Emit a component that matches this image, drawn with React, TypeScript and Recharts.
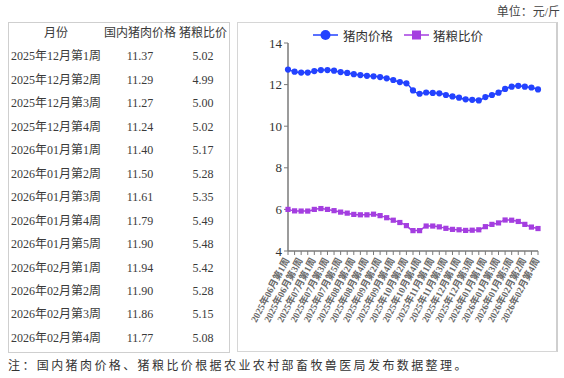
import React from 'react';
import { LineChart, Line, XAxis, YAxis } from 'recharts';

const weeks = [
  '2025年06月第1周', '2025年06月第2周', '2025年06月第3周', '2025年06月第4周',
  '2025年07月第1周', '2025年07月第2周', '2025年07月第3周', '2025年07月第4周', '2025年07月第5周',
  '2025年08月第1周', '2025年08月第2周', '2025年08月第3周', '2025年08月第4周',
  '2025年09月第1周', '2025年09月第2周', '2025年09月第3周', '2025年09月第4周',
  '2025年10月第1周', '2025年10月第2周', '2025年10月第3周', '2025年10月第4周', '2025年10月第5周',
  '2025年11月第1周', '2025年11月第2周', '2025年11月第3周', '2025年11月第4周',
  '2025年12月第1周', '2025年12月第2周', '2025年12月第3周', '2025年12月第4周',
  '2026年01月第1周', '2026年01月第2周', '2026年01月第3周', '2026年01月第4周', '2026年01月第5周',
  '2026年02月第1周', '2026年02月第2周', '2026年02月第3周', '2026年02月第4周',
];

const porkPrice = [
  12.72, 12.62, 12.58, 12.58,
  12.65, 12.70, 12.70, 12.67, 12.60,
  12.56, 12.50, 12.46, 12.42,
  12.40, 12.36, 12.30, 12.22,
  12.12, 12.06, 11.72, 11.56, 11.62,
  11.60, 11.58, 11.50, 11.43,
  11.37, 11.29, 11.27, 11.24,
  11.40, 11.50, 11.61, 11.79, 11.90,
  11.94, 11.90, 11.86, 11.77,
];

const pigGrainRatio = [
  6.00, 5.93, 5.92, 5.92,
  6.00, 6.04, 6.00, 5.94, 5.87,
  5.82, 5.76, 5.74, 5.74,
  5.77, 5.70, 5.60, 5.48,
  5.37, 5.22, 4.98, 4.98, 5.20,
  5.20, 5.16, 5.09, 5.04,
  5.02, 4.99, 5.00, 5.02,
  5.17, 5.28, 5.35, 5.49, 5.48,
  5.42, 5.28, 5.15, 5.08,
];

const yTicks = [4, 6, 8, 10, 12, 14];
const seriesNames = ['猪肉价格', '猪粮比价'];
const tableHeaders = ['月份', '国内猪肉价格', '猪粮比价'];
const tableStartIndex = 26;
const unitText = '单位：元/斤';
const noteText = '注：国内猪肉价格、猪粮比价根据农业农村部畜牧兽医局发布数据整理。';

const BLUE = '#2342ff';
const PURPLE = '#a43ee0';
const FONT = '"Liberation Serif", "Noto Sans CJK SC", serif';

const data = weeks.map((w, i) => ({ week: w, pork: porkPrice[i], ratio: pigGrainRatio[i] }));

const tableRows = weeks.slice(tableStartIndex).map((w, i) => ({
  week: w,
  pork: porkPrice[tableStartIndex + i].toFixed(2),
  ratio: pigGrainRatio[tableStartIndex + i].toFixed(2),
}));

const XTick = (props: any) => {
  const { x, y, payload, index } = props;
  if (index % 2 !== 0) return <g />;
  return (
    <g transform={`translate(${x},${y})`}>
      <text
        x={0}
        y={0}
        dy={3}
        dx={-2}
        textAnchor="end"
        transform="rotate(-62)"
        fontSize={9.5}
        fontWeight={700}
        fill="#6a6a6a"
        fontFamily={FONT}
      >
        {payload.value}
      </text>
    </g>
  );
};

const SquareDot = (props: any) => {
  const { cx, cy, index } = props;
  if (cx == null || cy == null) return <g key={`sq-${index}`} />;
  return <rect key={`sq-${index}`} x={cx - 2.6} y={cy - 2.6} width={5.2} height={5.2} fill={PURPLE} />;
};

const colCenters = [56, 140, 203];
const ROW_H = 23.45;

export default function App() {
  return (
    <div
      style={{
        position: 'absolute',
        left: 0,
        top: 0,
        width: 564,
        height: 378,
        background: '#fff',
        overflow: 'hidden',
        fontFamily: FONT,
        color: '#333',
      }}
    >
      <div style={{ position: 'absolute', right: 4, top: 4, fontSize: 12, lineHeight: '16px', color: '#444', whiteSpace: 'nowrap' }}>
        {unitText}
      </div>

      {/* table box */}
      <div style={{ position: 'absolute', left: 8, top: 22, width: 220, height: 329, border: '1px solid #cfcfcf' }} />
      {[tableHeaders, ...tableRows.map((r) => [r.week, r.pork, r.ratio])].map((row, k) => (
        <React.Fragment key={k}>
          {row.map((cell, c) => (
            <div
              key={c}
              style={{
                position: 'absolute',
                left: colCenters[c] - 50,
                width: 100,
                top: 22 + k * ROW_H,
                height: ROW_H,
                lineHeight: `${ROW_H}px`,
                textAlign: 'center',
                fontSize: 12,
                color: '#3a3a3a',
                whiteSpace: 'nowrap',
              }}
            >
              {cell}
            </div>
          ))}
        </React.Fragment>
      ))}

      {/* chart box */}
      <div style={{ position: 'absolute', left: 237, top: 22, width: 318, height: 328, border: '1px solid #d6d6d6', borderRightWidth: 2, borderRightColor: '#cfcfcf' }} />

      {/* legend */}
      <div style={{ position: 'absolute', left: 313, top: 27, height: 16, display: 'flex', alignItems: 'center', fontSize: 12.5, color: '#333', whiteSpace: 'nowrap' }}>
        <svg width={25} height={12} style={{ marginRight: 5 }}>
          <line x1={0} y1={6} x2={25} y2={6} stroke={BLUE} strokeWidth={1.5} />
          <circle cx={12.5} cy={6} r={5} fill={BLUE} />
        </svg>
        <span style={{ fontFamily: '"Noto Sans CJK SC", sans-serif' }}>{seriesNames[0]}</span>
        <svg width={25} height={12} style={{ marginLeft: 11, marginRight: 4 }}>
          <line x1={0} y1={6} x2={25} y2={6} stroke={PURPLE} strokeWidth={1.5} />
          <rect x={8} y={1.5} width={9} height={9} fill={PURPLE} />
        </svg>
        <span style={{ fontFamily: '"Noto Sans CJK SC", sans-serif' }}>{seriesNames[1]}</span>
      </div>

      <div style={{ position: 'absolute', left: 237, top: 22 }}>
        <LineChart width={320} height={330} data={data} margin={{ top: 21, right: 19, bottom: 11, left: 0 }}>
          <XAxis
            dataKey="week"
            interval={0}
            height={90}
            tick={<XTick />}
            tickSize={4}
            axisLine={{ stroke: '#7a7a7a', strokeWidth: 1.5 }}
            tickLine={{ stroke: '#7a7a7a' }}
          />
          <YAxis
            width={51}
            domain={[4, 14]}
            ticks={yTicks}
            interval={0}
            tickSize={4}
            tickMargin={2}
            axisLine={{ stroke: '#7a7a7a', strokeWidth: 1.5 }}
            tickLine={{ stroke: '#7a7a7a' }}
            tick={{ fontSize: 13, fill: '#333', fontFamily: FONT }}
          />
          <Line
            type="monotone"
            dataKey="pork"
            name={seriesNames[0]}
            stroke={BLUE}
            strokeWidth={1.5}
            dot={{ r: 3.1, fill: BLUE, stroke: BLUE, strokeWidth: 0 }}
            isAnimationActive={false}
          />
          <Line
            type="monotone"
            dataKey="ratio"
            name={seriesNames[1]}
            stroke={PURPLE}
            strokeWidth={1.5}
            dot={<SquareDot />}
            isAnimationActive={false}
          />
        </LineChart>
      </div>

      <div style={{ position: 'absolute', left: 8, top: 358, fontSize: 12, lineHeight: '16px', letterSpacing: 2.4, color: '#333', whiteSpace: 'nowrap' }}>
        {noteText}
      </div>
    </div>
  );
}
